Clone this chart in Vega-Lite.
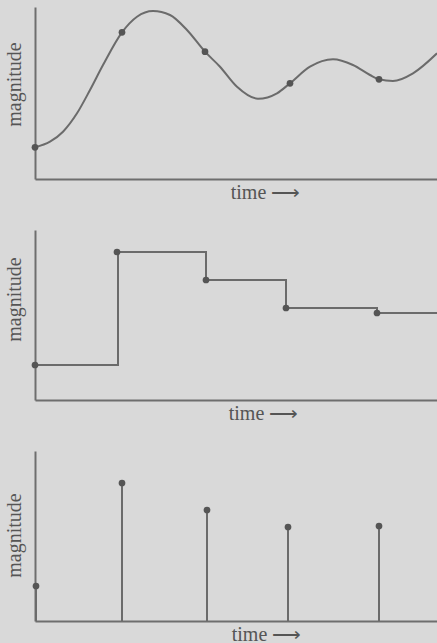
{
  "$schema": "https://vega.github.io/schema/vega-lite/v6.json",
  "background": "#d9d9d9",
  "padding": {"left": 4, "top": 7, "right": 0, "bottom": 0},
  "spacing": 28,
  "config": {
    "view": {"stroke": null},
    "axis": {
      "domainColor": "#6e6e6e",
      "domainWidth": 2,
      "ticks": false,
      "labels": false,
      "grid": false,
      "titleFont": "Liberation Serif",
      "titleFontSize": 20,
      "titleFontWeight": "normal",
      "titleColor": "#555555"
    }
  },
  "datasets": {
    "curve": [
      {"time": 0, "magnitude": 31.7},
      {"time": 15, "magnitude": 37.3},
      {"time": 28, "magnitude": 47.3},
      {"time": 42, "magnitude": 65.7},
      {"time": 55, "magnitude": 89},
      {"time": 68, "magnitude": 114},
      {"time": 87, "magnitude": 146.7},
      {"time": 102, "magnitude": 162.3},
      {"time": 118, "magnitude": 168},
      {"time": 135, "magnitude": 164},
      {"time": 152, "magnitude": 149},
      {"time": 170, "magnitude": 127.3},
      {"time": 185, "magnitude": 112.3},
      {"time": 202, "magnitude": 92.3},
      {"time": 223, "magnitude": 80.3},
      {"time": 242, "magnitude": 85.7},
      {"time": 255, "magnitude": 95.7},
      {"time": 275, "magnitude": 112.3},
      {"time": 298, "magnitude": 119.7},
      {"time": 318, "magnitude": 114},
      {"time": 335, "magnitude": 104},
      {"time": 344, "magnitude": 99.7},
      {"time": 358, "magnitude": 98},
      {"time": 378, "magnitude": 105.7},
      {"time": 402, "magnitude": 125.7}
    ],
    "samples1": [
      {"time": 0, "magnitude": 31.7},
      {"time": 87, "magnitude": 146.7},
      {"time": 170, "magnitude": 127.3},
      {"time": 255, "magnitude": 95.7},
      {"time": 344, "magnitude": 99.7}
    ],
    "step": [
      {"time": 0, "magnitude": 35},
      {"time": 83, "magnitude": 148},
      {"time": 171, "magnitude": 120},
      {"time": 251, "magnitude": 92},
      {"time": 342, "magnitude": 87},
      {"time": 402, "magnitude": 87}
    ],
    "samples2": [
      {"time": 0, "magnitude": 35},
      {"time": 82, "magnitude": 148},
      {"time": 171, "magnitude": 120},
      {"time": 251, "magnitude": 92},
      {"time": 342, "magnitude": 87}
    ],
    "samples3": [
      {"time": 1, "magnitude": 35},
      {"time": 87, "magnitude": 138},
      {"time": 172, "magnitude": 111},
      {"time": 253, "magnitude": 94},
      {"time": 344, "magnitude": 95}
    ]
  },
  "vconcat": [
    {
      "width": 402,
      "height": 172,
      "encoding": {
        "x": {"field": "time", "type": "quantitative", "scale": {"domain": [0, 402], "nice": false}, "axis": {"title": "time ⟶", "titleX": 230, "titleAlign": "center", "titlePadding": 3}},
        "y": {"field": "magnitude", "type": "quantitative", "scale": {"domain": [0, 172], "nice": false}, "axis": {"title": "magnitude", "titleY": 77, "titlePadding": 11}}
      },
      "layer": [
        {"data": {"name": "curve"}, "mark": {"type": "line", "interpolate": "monotone", "color": "#6b6b6b", "strokeWidth": 2}},
        {"data": {"name": "samples1"}, "mark": {"type": "circle", "size": 45, "color": "#555555", "opacity": 1}}
      ]
    },
    {
      "width": 402,
      "height": 170,
      "encoding": {
        "x": {"field": "time", "type": "quantitative", "scale": {"domain": [0, 402], "nice": false}, "axis": {"title": "time  ⟶", "titleX": 228, "titleAlign": "center", "titlePadding": 3}},
        "y": {"field": "magnitude", "type": "quantitative", "scale": {"domain": [0, 170], "nice": false}, "axis": {"title": "magnitude", "titleY": 69, "titlePadding": 11}}
      },
      "layer": [
        {"data": {"name": "step"}, "mark": {"type": "line", "interpolate": "step-after", "color": "#6b6b6b", "strokeWidth": 2}},
        {"data": {"name": "samples2"}, "mark": {"type": "circle", "size": 45, "color": "#555555", "opacity": 1}}
      ]
    },
    {
      "width": 402,
      "height": 170,
      "encoding": {
        "x": {"field": "time", "type": "quantitative", "scale": {"domain": [0, 402], "nice": false}, "axis": {"title": "time ⟶", "titleX": 231, "titleAlign": "center", "titlePadding": 3}},
        "y": {"field": "magnitude", "type": "quantitative", "scale": {"domain": [0, 170], "nice": false}, "axis": {"title": "magnitude", "titleY": 84, "titlePadding": 11}}
      },
      "layer": [
        {"data": {"name": "samples3"}, "mark": {"type": "rule", "color": "#6b6b6b", "strokeWidth": 2}, "encoding": {"y2": {"datum": 0}}},
        {"data": {"name": "samples3"}, "mark": {"type": "circle", "size": 45, "color": "#555555", "opacity": 1}}
      ]
    }
  ]
}
